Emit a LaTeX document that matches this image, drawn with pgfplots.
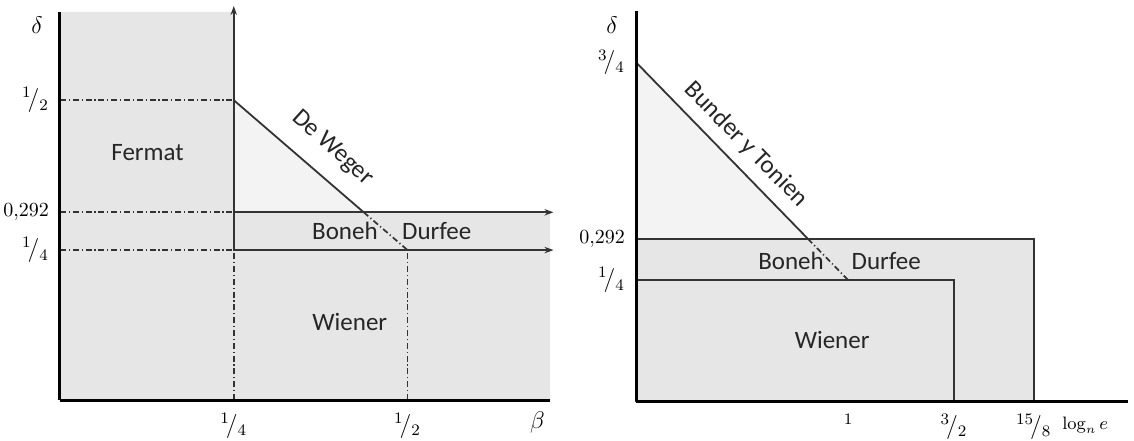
\documentclass[border=0pt]{standalone}
\usepackage[no-math]{fontspec}
\setmainfont{Carlito}
\usepackage{pgfplots}
\pgfplotsset{compat=1.18}
\usetikzlibrary{arrows.meta}
\definecolor{region}{HTML}{E6E6E6}
\definecolor{lightregion}{HTML}{F3F3F3}
\definecolor{edge}{HTML}{333333}

\tikzset{
  dashdot/.style={draw=edge, line width=0.85pt, dash pattern=on 3pt off 1.4pt on 0.6pt off 1.4pt},
  border/.style={draw=edge, line width=0.9pt},
  arr/.style={-{Stealth[length=4.5pt,width=3.2pt]}},
  lbl/.style={font=\fontsize{12.5}{15}\selectfont, text=black!85},
}
\newcommand{\fr}[2]{${}^{#1}\!/_{#2}$}

\pgfplotsset{
  schem/.style={
    scale only axis,
    axis x line*=bottom, axis y line*=left,
    axis line style={black, line width=1.5pt},
    axis on top,
    major tick length=0pt,
    clip=false,
    ymin=0, xmin=0,
    tick label style={font=\large},
    yticklabel style={xshift=-2pt},
    xticklabel style={yshift=-3pt},
  },
}

\begin{document}
\begin{tikzpicture}
\path[use as bounding box] (-30pt,-20pt) rectangle (537pt,200pt);

% ---------------- left: beta vs delta ----------------
\begin{axis}[schem,
  width=245pt, height=194pt,
  xmax=0.705, ymax=0.647,
  xtick={0.25,0.5}, xticklabels={\fr{1}{4},\fr{1}{2}},
  ytick={0.25,0.313,0.5}, yticklabels={\fr{1}{4},{\normalsize$0{,}292$},\fr{1}{2}},
]
% shaded regions
\addplot[fill=region, draw=none] coordinates {(0,0) (0.705,0) (0.705,0.313) (0.25,0.313) (0.25,0.647) (0,0.647)} -- cycle;
\addplot[fill=lightregion, draw=none] coordinates {(0.25,0.5) (0.25,0.313) (0.437,0.313)} -- cycle;
% guides
\addplot[dashdot] coordinates {(0,0.5) (0.25,0.5)};
\addplot[dashdot] coordinates {(0,0.313) (0.25,0.313)};
\addplot[dashdot] coordinates {(0,0.25) (0.25,0.25)};
\addplot[dashdot] coordinates {(0.25,0) (0.25,0.25)};
\addplot[dashdot] coordinates {(0.5,0) (0.5,0.25)};
% bounds
\addplot[border, arr] coordinates {(0.25,0.25) (0.25,0.657)};
\addplot[border, arr] coordinates {(0.25,0.313) (0.71,0.313)};
\addplot[border, arr] coordinates {(0.25,0.25) (0.71,0.25)};
\addplot[border] coordinates {(0.25,0.5) (0.437,0.313)};
\addplot[dashdot] coordinates {(0.437,0.313) (0.5,0.25)};
% labels
\node[lbl] at (axis cs:0.126,0.413) {Fermat};
\node[lbl, rotate=-42] at (axis cs:0.392,0.42) {De Weger};
\node[lbl] at (axis cs:0.41,0.282) {Boneh};
\node[lbl] at (axis cs:0.542,0.282) {Durfee};
\node[lbl] at (axis cs:0.417,0.13) {Wiener};
\node[font=\large] at (axis cs:0,0.625) [xshift=-11.5pt] {$\delta$};
\node[font=\large] at (axis cs:0.687,0) [yshift=-11pt] {$\beta$};
\end{axis}

% ---------------- right: log_n e vs delta ----------------
\begin{axis}[schem,
  at={(288pt,-0.5pt)},
  width=246pt, height=195pt,
  xmax=2.32, ymax=0.806,
  xtick={1,1.5,1.875}, xticklabels={{\footnotesize$1$},\fr{3}{2},\fr{15}{8}},
  ytick={0.25,0.335,0.7}, yticklabels={\fr{1}{4},{\normalsize$0{,}292$},\fr{3}{4}},
]
\addplot[fill=lightregion, draw=none] coordinates {(0,0.7) (0,0.335) (0.811,0.335)} -- cycle;
\addplot[fill=region, border] coordinates {(0,0) (1.875,0) (1.875,0.335) (0,0.335)} -- cycle;
\addplot[fill=region, border] coordinates {(0,0) (1.5,0) (1.5,0.25) (0,0.25)} -- cycle;
\addplot[border] coordinates {(0,0.7) (0.811,0.335)};
\addplot[dashdot] coordinates {(0.811,0.335) (1,0.25)};
\node[lbl, rotate=-45.5] at (axis cs:0.52,0.53) {Bunder y Tonien};
\node[lbl] at (axis cs:0.731,0.289) {Boneh};
\node[lbl] at (axis cs:1.18,0.289) {Durfee};
\node[lbl] at (axis cs:0.925,0.126) {Wiener};
\node[font=\large] at (axis cs:0,0.777) [xshift=-12pt] {$\delta$};
\node[font=\small] at (axis cs:2.118,0) [yshift=-12pt] {$\log_n e$};
\end{axis}
\end{tikzpicture}
\end{document}
